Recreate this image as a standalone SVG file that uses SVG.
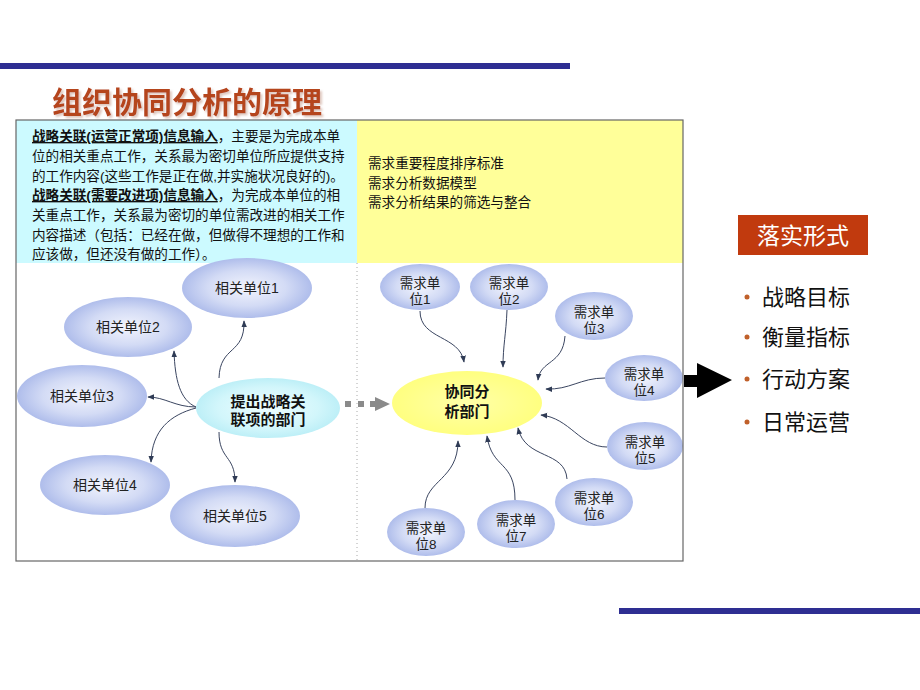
<svg xmlns="http://www.w3.org/2000/svg" width="920" height="690" viewBox="0 0 920 690">
<defs>
<radialGradient id="gBlue" cx="50%" cy="50%" r="50%">
<stop offset="0%" stop-color="#F2F4FD"/>
<stop offset="60%" stop-color="#D3DBF5"/>
<stop offset="100%" stop-color="#AFBDEB"/>
</radialGradient>
<radialGradient id="gCyan" cx="50%" cy="50%" r="50%">
<stop offset="0%" stop-color="#EEFDFF"/>
<stop offset="70%" stop-color="#D2F6FB"/>
<stop offset="100%" stop-color="#BDEFF7"/>
</radialGradient>
<radialGradient id="gYellow" cx="50%" cy="50%" r="50%">
<stop offset="0%" stop-color="#FFFFA8"/>
<stop offset="100%" stop-color="#FFFF80"/>
</radialGradient>
<filter id="shadow" x="-5%" y="-20%" width="110%" height="140%">
<feDropShadow dx="2" dy="2" stdDeviation="0.8" flood-color="#C8A090" flood-opacity="0.6"/>
</filter>
<marker id="ah" viewBox="0 0 10 10" refX="9" refY="5" markerWidth="7" markerHeight="7" orient="auto" markerUnits="userSpaceOnUse">
<path d="M0,1 L10,5 L0,9 Z" fill="#2F3B55"/>
</marker>
<style>
text{font-family:"Liberation Sans","Noto Sans CJK SC",sans-serif;}
.body{font-size:13.6px;fill:#111;}
.bu{font-weight:bold;text-decoration:underline;}
.lbl{font-size:14px;fill:#222;text-anchor:middle;}
.rl{font-size:13.5px;fill:#222;text-anchor:middle;}
.bold{font-weight:bold;font-size:15px;fill:#111;text-anchor:middle;}
.eb{fill:url(#gBlue);}
.con{fill:none;stroke:#3A4560;stroke-width:1;marker-end:url(#ah);}
.bul{font-size:22px;fill:#111;}
</style>
</defs>
<rect width="920" height="690" fill="#FFFFFF"/>
<rect x="0" y="63" width="570" height="6" fill="#2E2E92"/>
<rect x="619" y="608" width="301" height="6" fill="#2E2E92"/>
<text x="52" y="113" font-size="30" font-weight="bold" fill="#B5441E" filter="url(#shadow)">组织协同分析的原理</text>

<g id="panel-left">
<rect x="16" y="120" width="341" height="143" fill="#CCFAFF"/>
<text class="body" x="32" y="141"><tspan class="bu">战略关联(运营正常项)信息输入</tspan>，主要是为完成本单</text>
<text class="body" x="32" y="161">位的相关重点工作，关系最为密切单位所应提供支持</text>
<text class="body" x="32" y="181">的工作内容(这些工作是正在做,并实施状况良好的)。</text>
<text class="body" x="32" y="200"><tspan class="bu">战略关联(需要改进项)信息输入</tspan>，为完成本单位的相</text>
<text class="body" x="32" y="220">关重点工作，关系最为密切的单位需改进的相关工作</text>
<text class="body" x="32" y="240">内容描述（包括：已经在做，但做得不理想的工作和</text>
<text class="body" x="32" y="259">应该做，但还没有做的工作）。</text>
</g>
<g id="panel-right">
<rect x="357" y="120" width="326" height="143" fill="#FFFF99"/>
<text class="body" x="368" y="168">需求重要程度排序标准</text>
<text class="body" x="368" y="188">需求分析数据模型</text>
<text class="body" x="368" y="207">需求分析结果的筛选与整合</text>
</g>
<line x1="357" y1="263" x2="357" y2="561" stroke="#AAAAAA" stroke-width="1" stroke-dasharray="1,3"/>

<g id="rel1"><ellipse class="eb" cx="247" cy="288" rx="65" ry="30"/><text class="lbl" x="247" y="293">相关单位1</text></g>
<g id="rel2"><ellipse class="eb" cx="128" cy="327" rx="64" ry="30"/><text class="lbl" x="128" y="332">相关单位2</text></g>
<g id="rel3"><ellipse class="eb" cx="82" cy="396" rx="65" ry="31"/><text class="lbl" x="82" y="401">相关单位3</text></g>
<g id="rel4"><ellipse class="eb" cx="105" cy="485" rx="65" ry="30"/><text class="lbl" x="105" y="490">相关单位4</text></g>
<g id="rel5"><ellipse class="eb" cx="235" cy="516" rx="65" ry="31"/><text class="lbl" x="235" y="521">相关单位5</text></g>
<g id="src"><ellipse cx="268" cy="408" rx="72" ry="30" fill="url(#gCyan)"/><text class="bold" x="268" y="407">提出战略关</text><text class="bold" x="268" y="425">联项的部门</text></g>

<g id="hub"><ellipse cx="467" cy="403" rx="75" ry="32" fill="url(#gYellow)"/><text class="bold" x="467" y="397">协同分</text><text class="bold" x="467" y="417">析部门</text></g>
<g id="req1"><ellipse class="eb" cx="420" cy="287" rx="40" ry="23"/><text class="rl" x="420" y="288">需求单</text><text class="rl" x="420" y="304">位1</text></g>
<g id="req2"><ellipse class="eb" cx="509" cy="287" rx="39" ry="23"/><text class="rl" x="509" y="288">需求单</text><text class="rl" x="509" y="304">位2</text></g>
<g id="req3"><ellipse class="eb" cx="594" cy="316" rx="39" ry="24"/><text class="rl" x="594" y="317">需求单</text><text class="rl" x="594" y="333">位3</text></g>
<g id="req4"><ellipse class="eb" cx="644" cy="378" rx="39" ry="23"/><text class="rl" x="644" y="379">需求单</text><text class="rl" x="644" y="395">位4</text></g>
<g id="req5"><ellipse class="eb" cx="645" cy="446" rx="38" ry="24"/><text class="rl" x="645" y="447">需求单</text><text class="rl" x="645" y="463">位5</text></g>
<g id="req6"><ellipse class="eb" cx="594" cy="502" rx="39" ry="24"/><text class="rl" x="594" y="503">需求单</text><text class="rl" x="594" y="519">位6</text></g>
<g id="req7"><ellipse class="eb" cx="516" cy="524" rx="39" ry="24"/><text class="rl" x="516" y="525">需求单</text><text class="rl" x="516" y="541">位7</text></g>
<g id="req8"><ellipse class="eb" cx="426" cy="532" rx="39" ry="24"/><text class="rl" x="426" y="533">需求单</text><text class="rl" x="426" y="549">位8</text></g>

<g id="connectors">
<path class="con" d="M219,378 C220,345 245,355 244,321"/>
<path class="con" d="M196,407 C180,400 175,380 174,351"/>
<path class="con" d="M196,407 C175,407 165,397 148,397"/>
<path class="con" d="M196,408 C170,415 152,430 151,462"/>
<path class="con" d="M219,432 C219,460 235,455 235,482"/>
<path class="con" d="M420,311 C420,340 460,335 464,362"/>
<path class="con" d="M507,310 C506,335 503,345 503,367"/>
<path class="con" d="M565,336 C563,365 540,360 538,380"/>
<path class="con" d="M605,378 C580,378 570,390 546,389"/>
<path class="con" d="M607,447 C580,447 570,418 541,415"/>
<path class="con" d="M567,479 C565,450 525,460 518,428"/>
<path class="con" d="M515,500 C515,460 492,470 487,436"/>
<path class="con" d="M425,508 C425,480 458,480 458,441"/>
<g fill="#8A8A8A">
<rect x="345" y="401" width="6" height="6"/>
<rect x="358" y="401" width="6" height="6"/>
<polygon points="370,401 375,401 375,397 390,404 375,411 375,407 370,407"/>
</g>
</g>

<rect x="16" y="120" width="667" height="441" fill="none" stroke="#666666" stroke-width="1.2"/>

<g id="bigarrow"><polygon points="684,375 697,375 697,363 732,380 697,398 697,387 684,387" fill="#000000"/></g>

<g id="forms">
<rect x="738" y="215" width="130" height="40" fill="#C13A0E"/>
<text x="803" y="244" font-size="23" fill="#FFFFFF" text-anchor="middle">落实形式</text>
<g fill="#C0602A">
<circle cx="747" cy="297" r="2.5"/>
<circle cx="747" cy="337" r="2.5"/>
<circle cx="747" cy="379" r="2.5"/>
<circle cx="747" cy="422" r="2.5"/>
</g>
<text class="bul" x="762" y="305">战略目标</text>
<text class="bul" x="762" y="345">衡量指标</text>
<text class="bul" x="762" y="387">行动方案</text>
<text class="bul" x="762" y="430">日常运营</text>
</g>
</svg>
